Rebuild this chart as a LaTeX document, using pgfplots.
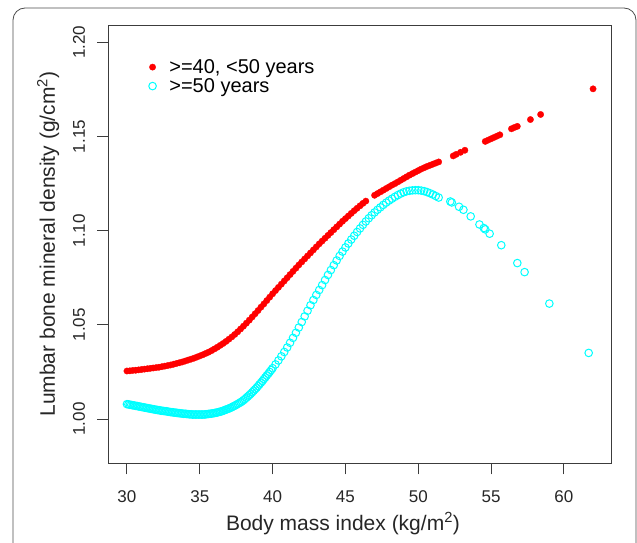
\documentclass[border=0pt]{standalone}
\usepackage{fontspec}
\setmainfont{Liberation Sans}
\usepackage{pgfplots}
\usepackage{pgfplotstable}
\pgfplotsset{compat=1.18}

\definecolor{rred}{RGB}{255,0,0}
\definecolor{rcyan}{RGB}{0,255,255}
\definecolor{boxgray}{RGB}{60,60,60}

% red: >=40, <50 years
\pgfplotstableread{
x y
30.0 1.0255
30.2 1.0256
30.4 1.0258
30.6 1.0259
30.8 1.0261
31.0 1.0263
31.2 1.0265
31.4 1.0267
31.6 1.0269
31.8 1.0271
32.0 1.0273
32.2 1.0275
32.4 1.0278
32.6 1.0281
32.8 1.0284
33.0 1.0287
33.2 1.0291
33.4 1.0295
33.6 1.0299
33.8 1.0303
34.0 1.0308
34.2 1.0313
34.4 1.0318
34.6 1.0323
34.8 1.0329
35.0 1.0335
35.2 1.0341
35.4 1.0348
35.6 1.0355
35.8 1.0363
36.0 1.0372
36.2 1.0381
36.4 1.0391
36.6 1.0401
36.8 1.0412
37.0 1.0424
37.2 1.0436
37.4 1.0449
37.6 1.0463
37.8 1.0478
38.0 1.0493
38.2 1.0509
38.4 1.0525
38.6 1.0542
38.8 1.0559
39.0 1.0576
39.2 1.0594
39.4 1.0611
39.6 1.0629
39.8 1.0647
40.0 1.0665
40.2 1.0682
40.4 1.0699
40.6 1.0716
40.8 1.0733
41.0 1.0750
41.2 1.0767
41.4 1.0784
41.6 1.0801
41.8 1.0818
42.0 1.0834
42.2 1.0850
42.4 1.0866
42.6 1.0882
42.8 1.0898
43.0 1.0914
43.2 1.0930
43.4 1.0945
43.6 1.0960
43.8 1.0975
44.0 1.0990
44.2 1.1005
44.4 1.1020
44.6 1.1035
44.8 1.1050
45.0 1.1064
45.2 1.1078
45.4 1.1092
45.6 1.1106
45.8 1.1119
46.0 1.1132
46.2 1.1145
46.4 1.1157
47.0 1.1188
47.2 1.1197
47.4 1.1206
47.6 1.1215
47.8 1.1224
48.0 1.1233
48.2 1.1242
48.4 1.1250
48.6 1.1259
48.8 1.1268
49.0 1.1277
49.2 1.1286
49.4 1.1295
49.6 1.1303
49.8 1.1311
50.0 1.1319
50.2 1.1327
50.4 1.1334
50.6 1.1341
50.8 1.1347
51.0 1.1353
51.2 1.1359
51.4 1.1365
52.4 1.1397
52.6 1.1405
52.9 1.1416
53.2 1.1427
54.6 1.1474
54.8 1.1481
55.0 1.1488
55.2 1.1495
55.4 1.1502
55.6 1.1509
56.4 1.1541
56.6 1.1548
56.8 1.1554
57.7 1.1590
58.4 1.1617
62.0 1.1753
}\younger

% cyan: >=50 years
\pgfplotstableread{
x y
30.0 1.0079
30.1 1.0078
30.2 1.0076
30.3 1.0075
30.4 1.0073
30.5 1.0072
30.6 1.0070
30.7 1.0069
30.8 1.0067
30.9 1.0066
31.0 1.0064
31.1 1.0063
31.2 1.0061
31.3 1.0060
31.4 1.0058
31.5 1.0057
31.6 1.0055
31.7 1.0054
31.8 1.0052
31.9 1.0051
32.0 1.0049
32.1 1.0048
32.2 1.0047
32.3 1.0045
32.4 1.0044
32.5 1.0043
32.6 1.0042
32.7 1.0041
32.8 1.0040
32.9 1.0038
33.0 1.0037
33.1 1.0036
33.2 1.0035
33.3 1.0034
33.4 1.0033
33.5 1.0032
33.6 1.0031
33.7 1.0030
33.8 1.0029
33.9 1.0028
34.0 1.0028
34.1 1.0027
34.2 1.0026
34.3 1.0025
34.4 1.0025
34.5 1.0024
34.6 1.0024
34.7 1.0024
34.8 1.0024
34.9 1.0024
35.0 1.0024
35.1 1.0024
35.2 1.0024
35.3 1.0024
35.4 1.0025
35.5 1.0026
35.6 1.0027
35.7 1.0028
35.8 1.0029
35.9 1.0030
36.0 1.0032
36.1 1.0033
36.2 1.0035
36.3 1.0037
36.4 1.0039
36.5 1.0041
36.6 1.0044
36.7 1.0047
36.8 1.0050
36.9 1.0053
37.0 1.0056
37.1 1.0059
37.2 1.0063
37.3 1.0067
37.4 1.0071
37.5 1.0075
37.6 1.0080
37.7 1.0084
37.8 1.0089
37.9 1.0094
38.0 1.0100
38.1 1.0106
38.2 1.0113
38.3 1.0120
38.4 1.0127
38.5 1.0134
38.6 1.0142
38.7 1.0150
38.8 1.0158
38.9 1.0166
39.0 1.0175
39.1 1.0184
39.2 1.0193
39.3 1.0202
39.4 1.0212
39.5 1.0221
39.6 1.0231
39.7 1.0240
39.8 1.0250
39.9 1.0260
40.0 1.0270
40.2 1.0290
40.4 1.0311
40.6 1.0333
40.8 1.0356
41.0 1.0380
41.2 1.0405
41.4 1.0431
41.6 1.0458
41.8 1.0486
42.0 1.0515
42.2 1.0545
42.4 1.0575
42.6 1.0604
42.8 1.0632
43.0 1.0659
43.2 1.0685
43.4 1.0711
43.6 1.0738
43.8 1.0765
44.0 1.0791
44.2 1.0817
44.4 1.0842
44.6 1.0866
44.8 1.0889
45.0 1.0911
45.2 1.0932
45.4 1.0953
45.6 1.0973
45.8 1.0993
46.0 1.1012
46.2 1.1031
46.4 1.1049
46.6 1.1066
46.8 1.1082
47.0 1.1097
47.2 1.1111
47.4 1.1124
47.6 1.1137
47.8 1.1149
48.0 1.1160
48.2 1.1170
48.4 1.1180
48.6 1.1189
48.8 1.1197
49.0 1.1204
49.2 1.1209
49.4 1.1212
49.6 1.1214
49.8 1.1215
50.0 1.1215
50.2 1.1213
50.4 1.1210
50.6 1.1205
50.8 1.1199
51.0 1.1192
51.2 1.1184
51.4 1.1176
52.2 1.1155
52.3 1.1150
52.8 1.1127
53.1 1.1111
53.6 1.1076
54.2 1.1033
54.5 1.1014
54.6 1.1007
54.9 1.0984
55.7 1.0923
56.8 1.0828
57.3 1.0780
59.0 1.0613
61.7 1.0351
}\older

\begin{document}
\begin{tikzpicture}
\useasboundingbox (0,0) rectangle (637pt,542pt);
% figure frame
\draw[black!70, line width=0.8pt, rounded corners=12pt]
    (13pt,-10pt) -- (13pt,534pt) -- (636pt,534pt) -- (636pt,-10pt);

\begin{axis}[
    scale only axis,
    at={(108.3pt,78.7pt)}, anchor=south west,
    width=503.4pt, height=438.3pt,
    xmin=28.72, xmax=63.28,
    ymin=0.9765, ymax=1.2092,
    xtick={30,35,40,45,50,55,60},
    ytick={1.00,1.05,1.10,1.15,1.20},
    xtick pos=bottom, ytick pos=left,
    tick align=outside,
    major tick length=11pt,
    minor tick num=0,
    axis line style={boxgray, line width=0.9pt},
    tick style={boxgray, line width=0.9pt},
    /pgf/number format/assume math mode=true,
    ticklabel style={font=\fontsize{17}{20}\selectfont, text=black!85},
    yticklabel style={/pgf/number format/fixed, /pgf/number format/fixed zerofill,
        /pgf/number format/precision=2, rotate=90, anchor=south, inner sep=0pt, yshift=12pt},
    xticklabel style={anchor=north, inner sep=0pt, yshift=-16pt},
    xlabel={Body mass index (kg/m\textsuperscript{2})},
    ylabel={Lumbar bone mineral density (g/cm\textsuperscript{2})},
    label style={font=\fontsize{21}{24}\selectfont, text=black!85},
    xlabel style={at={(axis description cs:0.5,0)}, anchor=base, yshift=-67pt, xshift=-17pt},
    ylabel style={at={(axis description cs:0,0.5)}, anchor=base, yshift=53.3pt},
    legend style={draw=none, fill=none, inner sep=0pt, at={(axis description cs:0.080,0.922)},
        anchor=north west, font=\fontsize{20}{22}\selectfont, row sep=3.5pt, column sep=13pt,
        nodes={inner sep=0pt}},
    legend image code/.code={\draw[mark repeat=1, mark phase=1, #1] plot coordinates {(3.2pt,0pt)};},
    legend cell align=left,
]
\addplot[only marks, mark=*, mark size=3.2pt, mark options={draw=rred, fill=rred, line width=0.3pt}]
    table[x=x, y=y] {\younger};
\addlegendentry{>=40, <50 years}
\addplot[only marks, mark=o, mark size=3.8pt, mark options={draw=rcyan, line width=1pt}]
    table[x=x, y=y] {\older};
\addlegendentry{>=50 years}
\end{axis}
\end{tikzpicture}
\end{document}
